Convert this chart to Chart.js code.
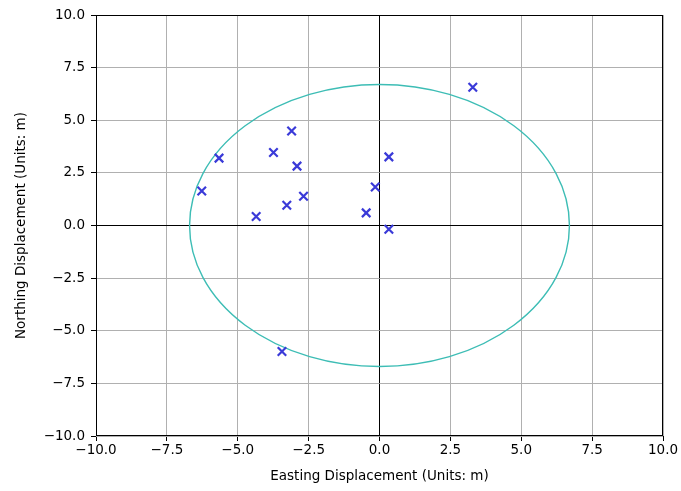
<!DOCTYPE html>
<html>
<head>
<meta charset="utf-8">
<script src="https://cdn.jsdelivr.net/npm/chart.js@4"></script>
<style>
  html, body { margin: 0; padding: 0; background: #fff; }
  #wrap { width: 681px; height: 491px; }
</style>
</head>
<body>
<div id="wrap"><canvas id="myChart"></canvas></div>
<script>
// station displacements (m)
const eastings = [3.29, -3.10, -3.74, -5.66, 0.33, -2.91, -6.27, -0.15, -2.68, -3.27, -4.35, -0.47, 0.33, -3.44];
const northings = [6.57, 4.49, 3.47, 3.20, 3.26, 2.82, 1.64, 1.83, 1.39, 0.96, 0.43, 0.60, -0.18, -5.99];
// tolerance circle radius (m)
const circleRadius = [6.7];
const tickValues = [-10, -7.5, -5, -2.5, 0, 2.5, 5, 7.5, 10];

const points = eastings.map((e, i) => ({ x: e, y: northings[i] }));

const fmt = (v) => v.toFixed(1).replace("-", "\u2212");

// draw circle + frame with the chart scales
const extras = {
  id: "extras",
  beforeDatasetsDraw(chart) {
    const { ctx, scales } = chart;
    const cx = scales.x.getPixelForValue(0);
    const cy = scales.y.getPixelForValue(0);
    const rx = scales.x.getPixelForValue(circleRadius[0]) - cx;
    const ry = cy - scales.y.getPixelForValue(circleRadius[0]);
    ctx.save();
    ctx.strokeStyle = "#3dbdb5";
    ctx.lineWidth = 1.4;
    ctx.beginPath();
    ctx.ellipse(cx, cy, rx, ry, 0, 0, Math.PI * 2);
    ctx.stroke();
    ctx.restore();
  },
  afterDraw(chart) {
    const { ctx, chartArea } = chart;
    ctx.save();
    ctx.strokeStyle = "#000";
    ctx.lineWidth = 1;
    ctx.strokeRect(Math.round(chartArea.left) + 0.5, Math.round(chartArea.top) + 0.5,
      Math.round(chartArea.right - chartArea.left) - 1, Math.round(chartArea.bottom - chartArea.top) - 1);
    ctx.restore();
  },
};

Chart.defaults.font.family = "'DejaVu Sans', sans-serif";
Chart.defaults.font.size = 13.5;
Chart.defaults.color = "#000";

const gridColor = (c) => (c.tick && c.tick.value === 0 ? "#000" : "#b0b0b0");

new Chart(document.getElementById("myChart"), {
  type: "scatter",
  data: {
    datasets: [
      {
        data: points,
        pointStyle: "crossRot",
        pointRadius: 6,
        pointHoverRadius: 6,
        borderWidth: 2.2,
        borderColor: "#3a3ad8",
        backgroundColor: "#3a3ad8",
      },
    ],
  },
  options: {
    responsive: true,
    maintainAspectRatio: false,
    animation: false,
    layout: { padding: { left: 13, right: 18, top: 15, bottom: 6 } },
    plugins: { legend: { display: false }, tooltip: { enabled: false } },
    scales: {
      x: {
        type: "linear",
        min: -10,
        max: 10,
        afterBuildTicks: (axis) => { axis.ticks = tickValues.map((v) => ({ value: v })); },
        ticks: { callback: fmt, maxRotation: 0, padding: 1 },
        grid: { color: gridColor, lineWidth: 1, tickLength: 5, tickColor: "#000" },
        border: { display: false },
        title: { display: true, text: "Easting Displacement (Units: m)", padding: { top: 3, bottom: 0 } },
        afterFit: (axis) => { axis.height = 49; },
      },
      y: {
        type: "linear",
        min: -10,
        max: 10,
        afterBuildTicks: (axis) => { axis.ticks = tickValues.map((v) => ({ value: v })); },
        ticks: { callback: fmt, padding: 6 },
        grid: { color: gridColor, lineWidth: 1, tickLength: 5, tickColor: "#000" },
        border: { display: false },
        title: { display: true, text: "Northing Displacement (Units: m)", padding: { top: 0, bottom: 4 } },
        afterFit: (axis) => { axis.width = 83; },
      },
    },
  },
  plugins: [extras],
});
</script>
</body>
</html>
